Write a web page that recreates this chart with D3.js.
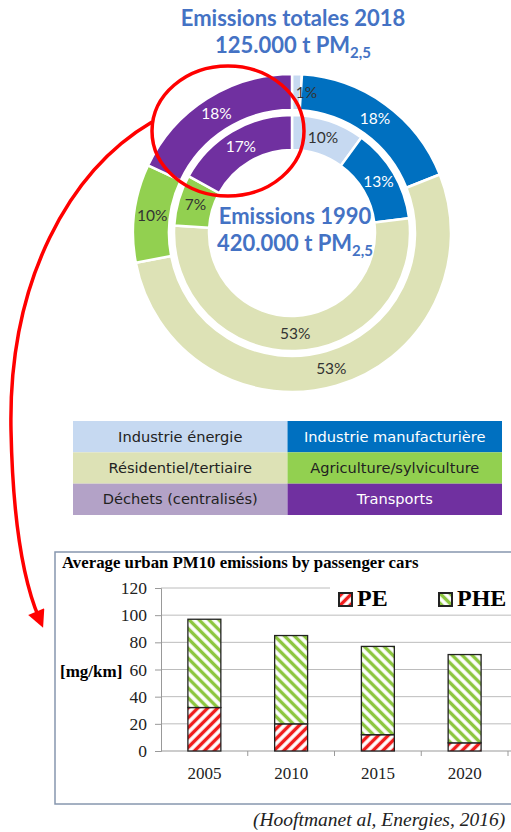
<!DOCTYPE html>
<html>
<head>
<meta charset="utf-8">
<style>
  body { margin: 0; background: #fff; }
  svg { display: block; }
</style>
<script src="https://d3js.org/d3.v7.min.js"></script>
</head>
<body>
<svg id="chart" width="511" height="832"></svg>
<script>
// sectors, 1990 inner ring and 2018 outer ring (%)
var sectors = ["Industrie énergie", "Industrie manufacturière", "Résidentiel/tertiaire",
               "Agriculture/sylviculture", "Déchets (centralisés)", "Transports"];
var share2018 = [1, 18, 53, 10, 0, 18];
var share1990 = [10, 13, 53, 7, 0, 17];
var sectorColors = ["#c6d9f1", "#0070c0", "#dde2b6", "#92d050", "#b3a2c7", "#7030a0"];
var labelWhite = [false, true, false, false, false, true];

// bar chart
var years = ["2005", "2010", "2015", "2020"];
var pe  = [32, 20, 12, 6];
var phe = [65, 65, 65, 65];
var yTicks = [0, 20, 40, 60, 80, 100, 120];

var svg = d3.select("#chart");
var defs = svg.append("defs");

// ---------- donut ----------
var cx = 292, cy = 233;
var pie = d3.pie().sort(null).value(d => d);
var rings = [
  {data: share1990, r0: 83, r1: 118},
  {data: share2018, r0: 123, r1: 159}
];

var donut = svg.append("g").attr("transform", "translate(" + cx + "," + cy + ")");
rings.forEach(function(ring){
  var arc = d3.arc().innerRadius(ring.r0).outerRadius(ring.r1);
  var arcs = pie(ring.data).map((a, i) => Object.assign(a, {i: i})).filter(a => a.value > 0);
  donut.selectAll(null).data(arcs).enter().append("path")
    .attr("d", arc)
    .attr("fill", d => sectorColors[d.i])
    .attr("stroke", "#fff")
    .attr("stroke-width", 2.5);
  donut.selectAll(null).data(arcs).enter().append("text")
    .attr("transform", function(d){
      var c = arc.centroid(d);
      if (d.value < 3) c[0] += 10;   // tiny 1% slice label sits beside it
      return "translate(" + c + ")";
    })
    .attr("text-anchor", "middle")
    .attr("dy", "0.35em")
    .style("font-family", "Lato, 'Open Sans', sans-serif")
    .style("font-size", "15.5px")
    .attr("fill", d => labelWhite[d.i] ? "#fff" : "#333")
    .text(d => d.value + "%");
});

// titles
function pmTitle(x, y, l1, l2){
  var t = svg.append("text")
    .attr("text-anchor", "middle")
    .style("font-family", "Lato, sans-serif")
    .style("font-weight", "bold")
    .style("font-size", "22px")
    .attr("fill", "#4472c4");
  t.append("tspan").attr("x", x).attr("y", y).text(l1);
  t.append("tspan").attr("x", x).attr("y", y + 27).text(l2);
  t.append("tspan").attr("dy", 5).style("font-size", "15px").text("2,5");
}
pmTitle(293, 26, "Emissions totales 2018", "125.000 t PM");
pmTitle(295, 224, "Emissions 1990", "420.000 t PM");

// ---------- legend table ----------
var legX = d3.scaleBand().domain([0, 1]).range([73, 502]);
var legY = d3.scaleBand().domain([0, 1, 2]).range([421, 515]);
var leg = svg.append("g");
sectors.forEach(function(s, i){
  var col = i % 2, row = Math.floor(i / 2);
  leg.append("rect")
    .attr("x", legX(col)).attr("y", legY(row))
    .attr("width", legX.bandwidth()).attr("height", legY.bandwidth())
    .attr("fill", sectorColors[i]);
  leg.append("text")
    .attr("x", legX(col) + legX.bandwidth() / 2)
    .attr("y", legY(row) + legY.bandwidth() / 2)
    .attr("dy", "0.35em")
    .attr("text-anchor", "middle")
    .style("font-family", "'DejaVu Sans', sans-serif")
    .style("font-size", "14.6px")
    .attr("fill", (i == 1 || i == 5) ? "#fff" : "#222")
    .text(s);
});

// ---------- bar chart ----------
function hatch(id, color, dir){
  var p = defs.append("pattern")
    .attr("id", id).attr("patternUnits", "userSpaceOnUse")
    .attr("width", 7).attr("height", 7)
    .attr("patternTransform", "rotate(" + dir + ")");
  p.append("rect").attr("width", 7).attr("height", 7).attr("fill", "#fff");
  p.append("line").attr("x1", 3.5).attr("y1", 0).attr("x2", 3.5).attr("y2", 7)
    .attr("stroke", color).attr("stroke-width", 3.4);
}
hatch("hPE", "#f01c1c", 45);
hatch("hPHE", "#8cc63f", -45);

svg.append("rect")
  .attr("x", 55).attr("y", 552).attr("width", 480).attr("height", 252)
  .attr("fill", "#fff").attr("stroke", "#8797ae").attr("stroke-width", 1.5);

svg.append("text")
  .attr("x", 62).attr("y", 568)
  .style("font-family", "'Liberation Serif', serif")
  .style("font-weight", "bold").style("font-size", "16.8px")
  .text("Average urban PM10 emissions by passenger cars");

var x = d3.scaleBand().domain(years).range([161, 508]).paddingInner(0.62).paddingOuter(0.31);
var y = d3.scaleLinear().domain([0, 120]).range([751, 588]);

// gridlines
svg.append("g").selectAll("line").data(yTicks.slice(1)).enter().append("line")
  .attr("x1", 161).attr("x2", 520)
  .attr("y1", d => y(d)).attr("y2", d => y(d))
  .attr("stroke", "#bcbcbc").attr("stroke-width", 1);

// y axis
var yAxis = svg.append("g").attr("transform", "translate(161,0)")
  .call(d3.axisLeft(y).tickValues(yTicks).tickSize(6).tickPadding(8));
yAxis.select(".domain").attr("stroke", "#999");
yAxis.selectAll(".tick line").attr("stroke", "#999");
yAxis.selectAll("text")
  .style("font-family", "'Liberation Serif', serif").style("font-size", "17.5px").attr("fill", "#222");

// x axis with ticks between categories
var xAxis = svg.append("g").attr("transform", "translate(0,751)");
xAxis.append("line").attr("x1", 161).attr("x2", 520).attr("stroke", "#999");
var step = x.step();
xAxis.selectAll(null).data(years).enter().append("line")
  .attr("x1", d => x(d) + x.bandwidth() / 2 + step / 2)
  .attr("x2", d => x(d) + x.bandwidth() / 2 + step / 2)
  .attr("y1", 0).attr("y2", 5).attr("stroke", "#999");
xAxis.selectAll(null).data(years).enter().append("text")
  .attr("x", d => x(d) + x.bandwidth() / 2).attr("y", 28)
  .attr("text-anchor", "middle")
  .style("font-family", "'Liberation Serif', serif").style("font-size", "17px").attr("fill", "#222")
  .text(d => d);

svg.append("text")
  .attr("x", 60).attr("y", 677)
  .style("font-family", "'Liberation Serif', serif")
  .style("font-weight", "bold").style("font-size", "17px")
  .text("[mg/km]");

// legend box covers the top gridline
svg.append("rect").attr("x", 330).attr("y", 580).attr("width", 181).attr("height", 34).attr("fill", "#fff");

// bars
var bars = svg.append("g");
years.forEach(function(yr, i){
  bars.append("rect")
    .attr("x", x(yr)).attr("width", x.bandwidth())
    .attr("y", y(pe[i])).attr("height", y(0) - y(pe[i]))
    .attr("fill", "url(#hPE)").attr("stroke", "#222").attr("stroke-width", 1.3);
  bars.append("rect")
    .attr("x", x(yr)).attr("width", x.bandwidth())
    .attr("y", y(pe[i] + phe[i])).attr("height", y(pe[i]) - y(pe[i] + phe[i]))
    .attr("fill", "url(#hPHE)").attr("stroke", "#222").attr("stroke-width", 1.3);
});

// bar legend
[["PE", "hPE", 339], ["PHE", "hPHE", 439]].forEach(function(l){
  svg.append("rect").attr("x", l[2]).attr("y", 593).attr("width", 13).attr("height", 13)
    .attr("fill", "url(#" + l[1] + ")").attr("stroke", "#222").attr("stroke-width", 2);
  svg.append("text").attr("x", l[2] + 18).attr("y", 606)
    .style("font-family", "'Liberation Serif', serif")
    .style("font-weight", "bold").style("font-size", "24px")
    .text(l[0]);
});

svg.append("text")
  .attr("x", 253).attr("y", 826)
  .style("font-family", "'Liberation Serif', serif")
  .style("font-style", "italic").style("font-size", "19.5px")
  .attr("fill", "#222")
  .text("(Hooftmanet al, Energies, 2016)");

// ---------- red highlight and arrow ----------
defs.append("marker")
  .attr("id", "arrowhead").attr("viewBox", "0 0 10 10")
  .attr("refX", 4).attr("refY", 5)
  .attr("markerWidth", 5.5).attr("markerHeight", 5)
  .attr("orient", "auto")
  .append("path").attr("d", "M0,0 L10,5 L0,10 z").attr("fill", "#ff0000");

svg.append("ellipse")
  .attr("cx", 228).attr("cy", 131).attr("rx", 76).attr("ry", 65)
  .attr("fill", "none").attr("stroke", "#ff0000").attr("stroke-width", 3.5);

svg.append("path")
  .attr("d", "M152,122 C70,170 8,280 11,430 C13,530 25,585 39,618")
  .attr("fill", "none").attr("stroke", "#ff0000").attr("stroke-width", 3.5)
  .attr("marker-end", "url(#arrowhead)");
</script>
</body>
</html>
